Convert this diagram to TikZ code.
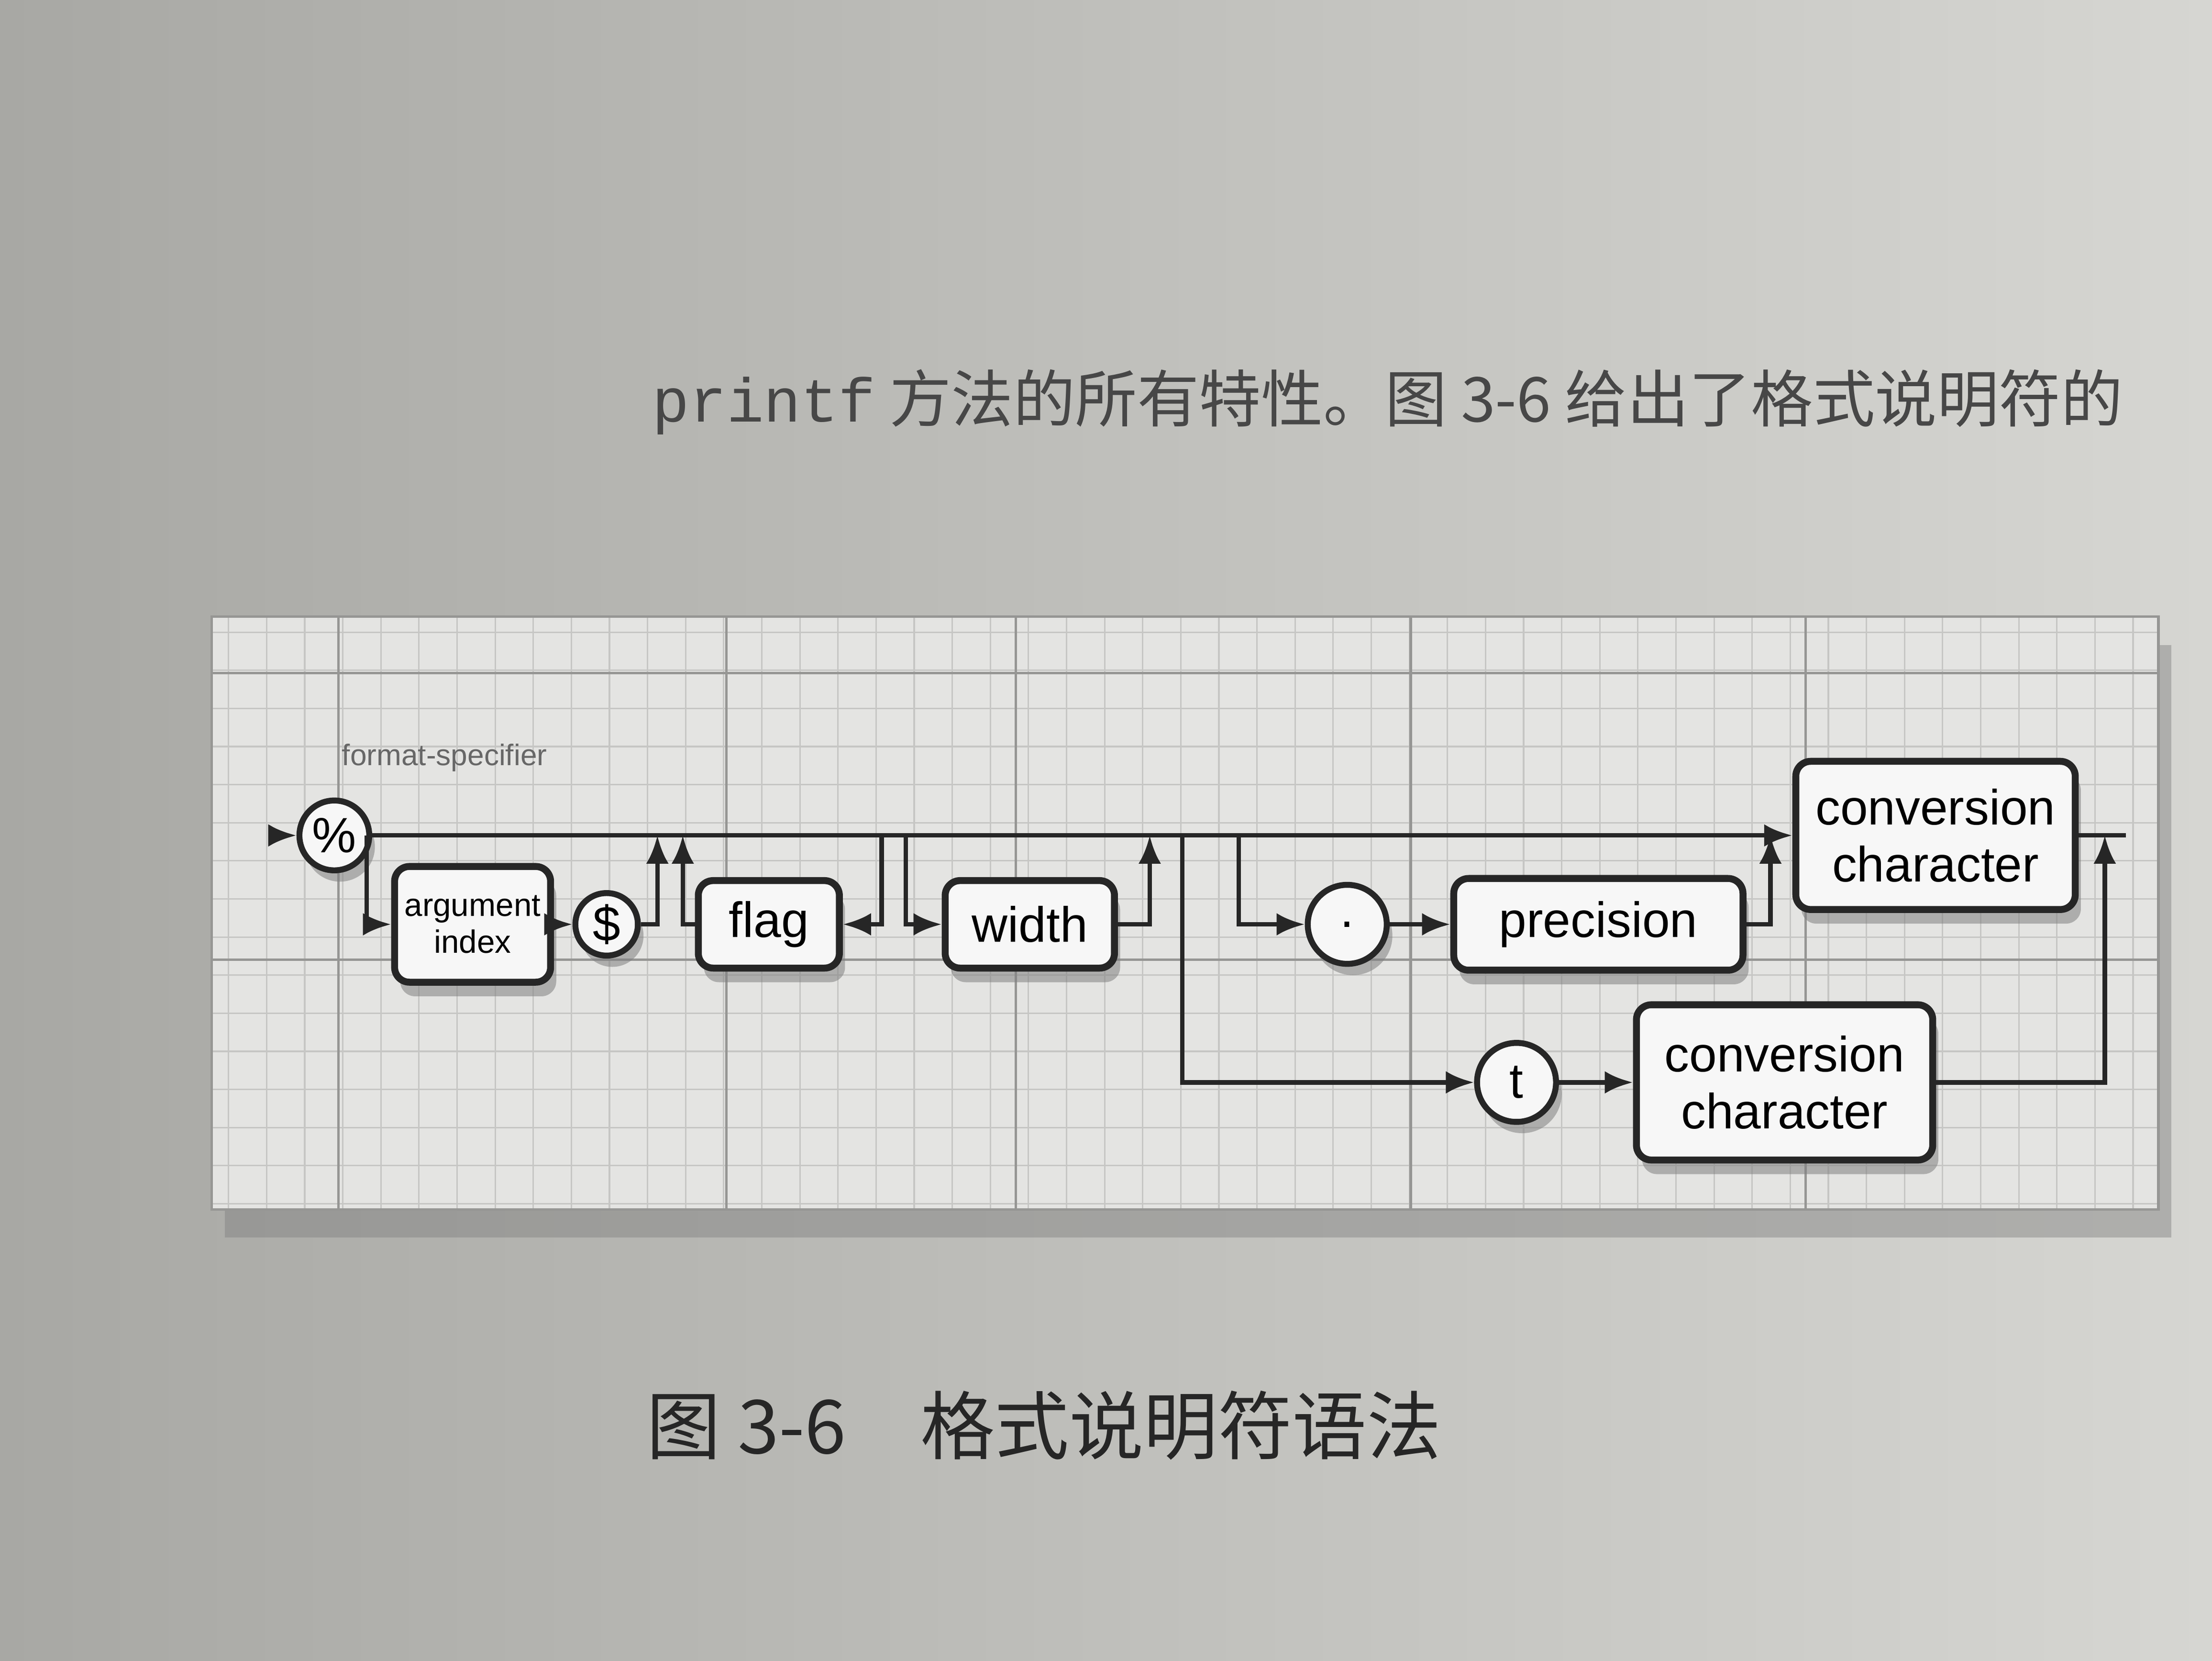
\documentclass[tikz,border=0pt]{standalone}
\usepackage{fontspec}
\setmainfont{Liberation Sans}
\setmonofont{Liberation Mono}
\newfontfamily\cjk{Noto Sans CJK SC}
\usetikzlibrary{arrows.meta, shadows}

\definecolor{page}{RGB}{214,214,210}
\definecolor{pagedark}{RGB}{168,168,164}
\definecolor{panel}{RGB}{228,228,226}
\definecolor{gridminor}{RGB}{198,198,196}
\definecolor{gridmajor}{RGB}{150,150,148}
\definecolor{ink}{RGB}{38,38,38}

\begin{document}
\begin{tikzpicture}[
        box/.style={draw=ink, line width=1.4pt, rounded corners=3pt, fill=white!94!gray, align=center, inner xsep=2pt, font=\fontsize{10}{11.5}\selectfont, drop shadow={shadow xshift=0.4mm, shadow yshift=-1mm, opacity=0.55}},
        term/.style={circle, draw=ink, line width=1.2pt, fill=white!94!gray, inner sep=1pt, minimum size=0.44cm, font=\fontsize{10}{11}\selectfont, drop shadow={shadow xshift=0.4mm, shadow yshift=-0.8mm, opacity=0.55}},
        flow/.style={draw=ink, line width=0.9pt},
        >={Latex[length=2mm, width=1.6mm]}
    ]
        %background
        \useasboundingbox (0,0) rectangle (15.68,11.77);
        \shade[left color=pagedark, right color=page] (0,0) rectangle (15.68,11.77);
        \fill[panel, drop shadow={shadow yshift=-2mm, opacity=0.45}] (1.5,3.2) rectangle (15.3,7.4);
        \draw[gridminor, line width=0.3pt, step=0.27] (1.5,3.2) grid (15.3,7.4);
        \foreach \x in {2.4, 5.15, 7.2, 10.0, 12.8}
            \draw[gridmajor, line width=0.5pt] (\x,3.2) -- (\x,7.4);
        \foreach \y in {4.97, 7.0}
            \draw[gridmajor, line width=0.5pt] (1.5,\y) -- (15.3,\y);
        \draw[gridmajor, line width=0.5pt] (1.5,3.2) rectangle (15.3,7.4);

        %texts on the page
        \node[font=\cjk\fontsize{12.5}{15}\selectfont, text=ink!85, anchor=west] (head) at (4.5,8.92) {{\ttfamily printf} 方法的所有特性。图 3-6 给出了格式说明符的};
        \node[font=\cjk\fontsize{15}{18}\selectfont, text=ink] (cap) at (7.4,1.67) {图 3-6\quad 格式说明符语法};
        \node[font=\fontsize{6}{7}\selectfont, text=ink!70, anchor=west] (lbl) at (2.3,6.4) {format-specifier};

        %nodes
        \node[term] (pct) at (2.37,5.85) {\%};
        \node[box, minimum width=1.05cm, minimum height=0.82cm, font=\fontsize{6.5}{7.5}\selectfont] (arg) at (3.35,5.22) {argument\\index};
        \node[term] (dol) at (4.3,5.22) {\$};
        \node[box, minimum width=1.0cm, minimum height=0.62cm] (flag) at (5.45,5.22) {flag};
        \node[box, minimum width=1.2cm, minimum height=0.62cm] (wid) at (7.3,5.22) {width};
        \node[term, minimum size=0.56cm] (dot) at (9.55,5.22) {.};
        \node[box, minimum width=2.05cm, minimum height=0.65cm] (prec) at (11.33,5.22) {precision};
        \node[box, inner xsep=4pt, minimum height=1.05cm] (conv) at (13.72,5.85) {conversion\\character};
        \node[term, minimum size=0.56cm] (tee) at (10.75,4.1) {t};
        \node[box, minimum width=2.1cm, minimum height=1.1cm] (convt) at (12.65,4.1) {conversion\\character};

        %junctions on the main line
        \coordinate (in) at (2.0,5.85);
        \coordinate (j0) at (2.6,5.85);
        \coordinate (j1) at (4.66,5.85);
        \coordinate (j2) at (4.84,5.85);
        \coordinate (j3) at (6.25,5.85);
        \coordinate (j4) at (6.42,5.85);
        \coordinate (j5) at (8.15,5.85);
        \coordinate (j6) at (8.38,5.85);
        \coordinate (j7) at (8.78,5.85);
        \coordinate (j8) at (12.55,5.85);
        \coordinate (j9) at (14.92,5.85);
        \coordinate (out) at (15.07,5.85);

        %edges
        \draw[flow,->] (in) -- (pct);
        \draw[flow,->] (pct) -- (conv);
        \draw[flow,->] (j0) |- (arg);
        \draw[flow,->] (arg) -- (dol);
        \draw[flow,->] (dol) -| (j1);
        \draw[flow,->] (flag) -| (j2);
        \draw[flow,->] (j3) |- (flag);
        \draw[flow,->] (j4) |- (wid);
        \draw[flow,->] (wid) -| (j5);
        \draw[flow,->] (j7) |- (dot);
        \draw[flow,->] (dot) -- (prec);
        \draw[flow,->] (prec) -| (j8);
        \draw[flow] (conv) -- (out);

        %date branch
        \draw[flow,->] (j6) |- (tee);
        \draw[flow,->] (tee) -- (convt);
        \draw[flow,->] (convt) -| (j9);
    \end{tikzpicture}
\end{document}
